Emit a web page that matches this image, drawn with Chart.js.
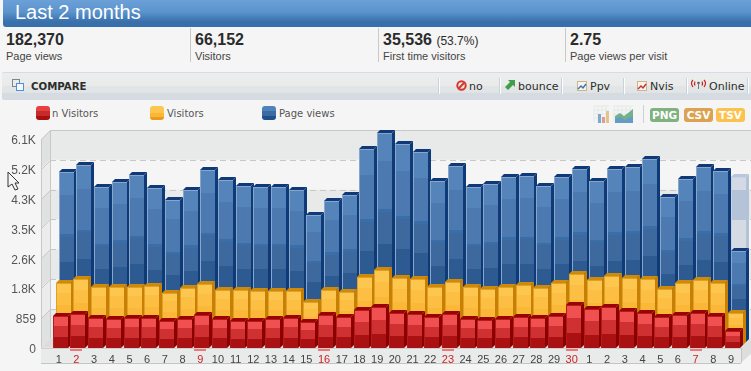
<!DOCTYPE html>
<html>
<head>
<meta charset="utf-8">
<title>Last 2 months</title>
<script src="https://cdn.jsdelivr.net/npm/chart.js@4"></script>
<style>
html,body{margin:0;padding:0;background:#f5f5f5;width:751px;height:371px;overflow:hidden;font-family:"Liberation Sans",Arial,sans-serif;color:#333}
.a{position:absolute;white-space:nowrap}
#hdr{left:3px;top:0;width:748px;height:27px;border-bottom-left-radius:3px;background:linear-gradient(#6ba1d8 0,#5b93cc 45%,#4a82bd 62%,#3a71ad 80%,#366eaa 100%)}
#ttl{left:15px;top:0;font-size:20px;line-height:25px;color:#fff}
.kv{font-size:16px;font-weight:bold;color:#2b2b2b;line-height:18px;top:31px}
.kv small{font-size:12px;font-weight:normal}
.kl{font-size:11px;color:#444;line-height:14px;top:49px}
.kd{top:28px;width:1px;height:34px;background:#c9c9c9}
#bar{left:2px;top:72px;width:749px;height:27px;border-top:1px solid #d4dce6;border-radius:2px 0 0 2px;background:linear-gradient(#eceeed 0,#e9ebea 48%,#e1e5e6 50%,#e1e5e6 72%,#d6dbe2 74%,#d6dbe2 100%)}
.bd{top:78px;width:1px;height:16px;background:#fbfcfc;border-left:1px solid #c9d3df}
.bt{top:80px;font-family:"DejaVu Sans",Verdana,sans-serif;font-size:11px;line-height:14px;color:#2d2d2d}
.sw{top:106px;width:14px;height:14px;border-radius:3px}
.lg{top:107px;font-family:"DejaVu Sans",Verdana,sans-serif;font-size:10px;line-height:13px;color:#555}
.bdg{top:108px;height:14px;border-radius:3px;color:#fff;font:bold 10.5px/14px "DejaVu Sans",Verdana,sans-serif;text-align:center}
#c{position:absolute;left:0;top:0;display:block}
</style>
</head>
<body>
<div class="a" id="hdr"></div>
<div class="a" id="ttl">Last 2 months</div>

<div class="a kv" style="left:6px">182,370</div><div class="a kl" style="left:6px">Page views</div>
<div class="a kd" style="left:190px"></div>
<div class="a kv" style="left:195px">66,152</div><div class="a kl" style="left:195px">Visitors</div>
<div class="a kd" style="left:378px"></div>
<div class="a kv" style="left:383px">35,536 <small>(53.7%)</small></div><div class="a kl" style="left:383px">First time visitors</div>
<div class="a kd" style="left:565px"></div>
<div class="a kv" style="left:570px">2.75</div><div class="a kl" style="left:570px">Page views per visit</div>

<div class="a" id="bar"></div>
<svg class="a" style="left:12px;top:79px" width="13" height="13"><rect x="0.5" y="0.5" width="7" height="7" fill="none" stroke="#7a8794"/><rect x="4.5" y="4.5" width="7" height="7" fill="#f4f8fc" stroke="#4d92e0"/></svg>
<div class="a bt" style="left:31px;font-weight:bold;font-size:10.2px">COMPARE</div>
<div class="a bd" style="left:438px"></div><div class="a bd" style="left:499px"></div><div class="a bd" style="left:561px"></div><div class="a bd" style="left:623px"></div><div class="a bd" style="left:686px"></div><div class="a bd" style="left:747px"></div>
<svg class="a" style="left:456px;top:80px" width="11" height="11"><circle cx="5.5" cy="5.5" r="4.2" fill="none" stroke="#d9372c" stroke-width="2"/><line x1="2.8" y1="8.2" x2="8.2" y2="2.8" stroke="#d9372c" stroke-width="2"/></svg>
<div class="a bt" style="left:469px;font-size:11px">no</div>
<svg class="a" style="left:505px;top:80px" width="11" height="11"><polygon points="0,7 5,2 3,0 10,0 10,7 8,5 3,10" fill="#3f9f4a"/></svg>
<div class="a bt" style="left:518px">bounce</div>
<svg class="a" style="left:577px;top:81px" width="10" height="10"><rect x="0.5" y="0.5" width="9" height="9" fill="#f8f4ea" stroke="#c9b48e"/><polyline points="1,8 4,5 6,7 9,3" fill="none" stroke="#3c6fb7" stroke-width="1.4"/></svg>
<div class="a bt" style="left:590px">Ppv</div>
<svg class="a" style="left:637px;top:81px" width="10" height="10"><rect x="0.5" y="0.5" width="9" height="9" fill="#f8f4ea" stroke="#c9b48e"/><polyline points="1,8 4,5 6,7 9,3" fill="none" stroke="#c92f2f" stroke-width="1.4"/></svg>
<div class="a bt" style="left:650px">Nvis</div>
<svg class="a" style="left:690px;top:79px" width="17" height="11"><g fill="none" stroke="#c52222" stroke-width="1.2"><path d="M3 1Q0 4 3 8"/><path d="M5 2.5Q4 4.5 5 6.5"/><path d="M14 1Q17 4 14 8"/><path d="M12 2.5Q13 4.5 12 6.5"/></g><circle cx="8.5" cy="4" r="1.3" fill="#555"/><line x1="8.5" y1="4" x2="8.5" y2="10" stroke="#777"/></svg>
<div class="a bt" style="left:709px">Online</div>

<div class="a sw" style="left:36px;background:linear-gradient(#e64040 0,#e64040 35%,#c62a2a 36%,#c62a2a 70%,#a81010 71%)"></div>
<div class="a lg" style="left:52px">n Visitors</div>
<div class="a sw" style="left:150px;background:linear-gradient(#fdc64e 0,#fdc64e 50%,#fbb635 51%,#fbb635 80%,#e79a1d 81%)"></div>
<div class="a lg" style="left:167px">Visitors</div>
<div class="a sw" style="left:262px;background:linear-gradient(#5083bc 0,#5083bc 35%,#3c6aa2 36%,#3c6aa2 70%,#214f88 71%)"></div>
<div class="a lg" style="left:279px">Page views</div>

<svg class="a" style="left:593px;top:105px;opacity:.85" width="42" height="19">
<g stroke="#e3e6e8" fill="none"><path d="M1 1H16M1 5H16M1 9H16M1 13H16M1 1V17M5 1V17M9 1V17M13 1V17"/><path d="M21 1H40M21 5H40M21 9H40M21 13H40M21 1V17M25 1V17M29 1V17M33 1V17M37 1V17"/></g>
<rect x="5" y="9" width="3" height="9" fill="#6f9ac6"/><rect x="9" y="12" width="3" height="6" fill="#d98f7f"/><rect x="13" y="6" width="3" height="12" fill="#e3b979"/>
<polygon points="22,18 22,11 27,8 31,11 35,8 40,4 40,18" fill="#5ba778"/><polygon points="22,18 22,14 27,12 32,15 40,11 40,18" fill="#4f8bbd"/>
</svg>
<div class="a" style="left:643px;top:105px;width:1px;height:18px;background:#cfcfcf"></div>
<div class="a bdg" style="left:650px;width:29px;background:#7fb27f">PNG</div>
<div class="a bdg" style="left:684px;width:29px;background:#dba351">CSV</div>
<div class="a bdg" style="left:716px;width:29px;background:#fcc24f">TSV</div>

<canvas id="c" width="751" height="371"></canvas>

<svg class="a" style="left:7px;top:171px" width="13" height="21"><polygon points="1,1 1,16 5,13 8,19 11,18 8,12 12,12" fill="#f5f5f5" stroke="#333" stroke-width="1"/></svg>

<script>
const categories = ['1','2','3','4','5','6','7','8','9','10','11','12','13','14','15','16','17','18','19','20','21','22','23','24','25','26','27','28','29','30','1','2','3','4','5','6','7','8','9'];
const weekendFlags = [0,1,0,0,0,0,0,0,1,0,0,0,0,0,0,1,0,0,0,0,0,0,1,0,0,0,0,0,0,1,0,0,0,0,0,0,1,0,0];
const newVisitors = [948,998,881,860,889,889,801,860,969,860,801,801,842,881,772,969,901,1124,1195,1036,998,901,998,860,831,860,901,872,948,1271,1145,1195,1095,1036,901,977,1036,930,508];
const visitors = [1820,1937,1693,1711,1711,1723,1526,1673,1790,1623,1614,1594,1594,1594,1271,1623,1564,2005,2210,1975,1946,1711,1858,1693,1652,1693,1752,1682,1811,2075,1917,2034,1975,1928,1635,1811,1917,1829,948];
const pageViews = [5019,5204,4570,4705,4931,4540,4188,4491,5057,4784,4587,4570,4570,4482,3727,4168,4344,5694,6172,5841,5606,4734,5186,4570,4658,4872,4901,4608,4852,5107,4755,5107,5145,5380,4265,4813,5166,5028,2671];
const projectedViews = [null,null,null,null,null,null,null,null,null,null,null,null,null,null,null,null,null,null,null,null,null,null,null,null,null,null,null,null,null,null,null,null,null,null,null,null,null,null,4863];
const tickLabels = ['0','859','1.8K','2.6K','3.5K','4.3K','5.2K','6.1K'];
const tickValues = [0,880,1760,2640,3520,4400,5280,6160];

const STYLES = {
  red:{dx:1.8,dy:2,w:15.4,depth:3,side:'#8c0000',top:'#9b0303',edge:'#b21c1c',bands:[[0,'#f15051'],[.31,'#cf3031'],[.66,'#aa1112']]},
  yellow:{dx:4.8,dy:5,w:15.4,depth:3,side:'#c77f04',top:'#cf8a0a',edge:'#e0a028',bands:[[0,'#fdc64e'],[.16,'#fcbf44'],[.36,'#fbb737']]},
  blue:{dx:7.3,dy:8,w:14.6,depth:3,side:'#0e3a78',top:'#10397a',edge:'#88a6ca',bands:[[0,'#5584bb'],[.135,'#4b79b0'],[.365,'#3a6ea9'],[.38,'#3e699f'],[.53,'#2d5a91']]},
  ghost:{dx:7.3,dy:8,w:14.6,depth:3,side:'#b4c2d8',top:'#b9c7dc',edge:'#c8d2e2',bands:[[0,'#d3dae6'],[.08,'#b5c3d8'],[.26,'#d5dbe3']]}
};

const box3d = {
  id:'box3d',
  beforeDatasetDraw(chart,args){
    const st = STYLES[chart.data.datasets[args.index].look];
    const ctx = chart.ctx;
    ctx.save();
    args.meta.data.forEach(el=>{
      if(el.skip || el.y==null || isNaN(el.y)) return;
      const L = Math.round(el.x + st.dx - st.w/2), W = Math.round(st.w);
      const T = Math.round(el.y - st.dy), B = Math.round(el.base - st.dy), H = B - T, d = st.depth;
      ctx.fillStyle = st.side;
      ctx.beginPath();ctx.moveTo(L+W,T);ctx.lineTo(L+W+d,T-d);ctx.lineTo(L+W+d,B-d);ctx.lineTo(L+W,B);ctx.closePath();ctx.fill();
      ctx.fillStyle = st.top;
      ctx.beginPath();ctx.moveTo(L,T);ctx.lineTo(L+d,T-d);ctx.lineTo(L+W+d,T-d);ctx.lineTo(L+W,T);ctx.closePath();ctx.fill();
      st.bands.forEach((b,i)=>{
        const y0 = T + Math.round(b[0]*H);
        const y1 = i+1<st.bands.length ? T + Math.round(st.bands[i+1][0]*H) : B;
        ctx.fillStyle = b[1];
        ctx.fillRect(L,y0,W,y1-y0);
      });
      ctx.fillStyle = st.edge;
      ctx.fillRect(L,T,1,H);
      ctx.fillRect(L,T,W,1);
    });
    ctx.restore();
    return false;
  }
};

const walls = {
  id:'walls',
  beforeDraw(chart){
    const ctx = chart.ctx, y = chart.scales.y, x = chart.scales.x;
    const FX = 41, BX = 50, RT = 741, VR = 751, FO = 2, BO = 11;
    const px = y.ticks.map(t=>y.getPixelForValue(t.value));
    const F = px[0]-FO, Bk = px[0]-BO, last = px.length-1;
    ctx.save();
    for(let i=last;i>0;i--){
      const top = px[i]-BO, bot = px[i-1]-BO, dark = (last-i)%2===0;
      ctx.fillStyle = dark ? '#e8e9e9' : '#f5f5f5';
      ctx.fillRect(BX,top,VR-BX,bot-top);
      ctx.fillStyle = dark ? '#e0e2e2' : '#ececec';
      ctx.beginPath();ctx.moveTo(FX,px[i]-FO);ctx.lineTo(BX,top);ctx.lineTo(BX,bot);ctx.lineTo(FX,px[i-1]-FO);ctx.closePath();ctx.fill();
    }
    ctx.strokeStyle='#c8c8c8';ctx.lineWidth=1;
    px.forEach((p,i)=>{
      ctx.beginPath();ctx.setLineDash([]);
      ctx.moveTo(FX+.5,Math.round(p-FO)+.5);ctx.lineTo(BX+.5,Math.round(p-BO)+.5);ctx.stroke();
      if(i>0){
        ctx.beginPath();
        if(i<last) ctx.setLineDash([6,4]);
        ctx.moveTo(BX,Math.round(p-BO)+.5);ctx.lineTo(VR,Math.round(p-BO)+.5);ctx.stroke();
      }
    });
    ctx.setLineDash([]);
    ctx.beginPath();ctx.moveTo(FX+.5,F);ctx.lineTo(FX+.5,px[last]-FO);ctx.moveTo(BX+.5,Bk);ctx.lineTo(BX+.5,px[last]-BO);ctx.stroke();
    ctx.fillStyle='#dcdcdc';
    ctx.beginPath();ctx.moveTo(FX,F);ctx.lineTo(BX,Bk);ctx.lineTo(VR,Bk);ctx.lineTo(RT,F);ctx.closePath();ctx.fill();
    ctx.fillStyle='#e9eaea';
    ctx.fillRect(FX,F,RT-FX,15);
    ctx.fillStyle='#dddddd';
    ctx.beginPath();ctx.moveTo(RT,F);ctx.lineTo(VR,Bk);ctx.lineTo(VR,Bk+15);ctx.lineTo(RT,F+15);ctx.closePath();ctx.fill();
    ctx.strokeStyle='#cfcfcf';
    ctx.beginPath();ctx.moveTo(FX,Math.round(F)+.5);ctx.lineTo(RT,Math.round(F)+.5);ctx.stroke();
    ctx.strokeStyle='#c4c4c4';
    ctx.beginPath();ctx.moveTo(FX,Math.round(F)+15.5);ctx.lineTo(RT,Math.round(F)+15.5);ctx.moveTo(RT+.5,F);ctx.lineTo(RT+.5,F+15);ctx.stroke();
    ctx.fillStyle='#f07878';
    weekendFlags.forEach((f,i)=>{ if(f) ctx.fillRect(Math.round(x.getPixelForTick(i))-6,Math.round(F)+1,12,2); });
    ctx.restore();
  }
};

function bar(label,data,look,color){
  return {label,data,look,backgroundColor:color,borderColor:color,grouped:false,barPercentage:1,categoryPercentage:.87};
}

new Chart(document.getElementById('c'),{
  type:'bar',
  data:{labels:categories,datasets:[
    bar('n Visitors',newVisitors,'red','#cf3031'),
    bar('Visitors',visitors,'yellow','#fbb737'),
    bar('Page views',pageViews,'blue','#3e699f'),
    bar('Projected',projectedViews,'ghost','#b5c3d8')
  ]},
  plugins:[walls,box3d],
  options:{
    responsive:false,animation:false,
    layout:{padding:{left:0,right:11.2,top:141,bottom:0}},
    plugins:{legend:{display:false},tooltip:{enabled:false}},
    scales:{
      x:{
        grid:{display:false,drawTicks:false},border:{display:false},
        ticks:{autoSkip:false,maxRotation:0,padding:4,font:{family:'"Liberation Sans",Arial,sans-serif',size:11},
          color:c=>weekendFlags[c.index]?'#cc2222':'#444'},
        afterFit(s){s.height=20;}
      },
      y:{
        min:0,max:6160,
        afterBuildTicks(s){s.ticks=tickValues.map(value=>({value}));},
        grid:{display:false,drawTicks:false},border:{display:false},
        ticks:{padding:14,font:{family:'"Liberation Sans",Arial,sans-serif',size:12},color:'#555',
          callback:(v,i)=>tickLabels[i]},
        afterFit(s){s.width=49.85;}
      }
    }
  }
});
</script>
</body>
</html>
